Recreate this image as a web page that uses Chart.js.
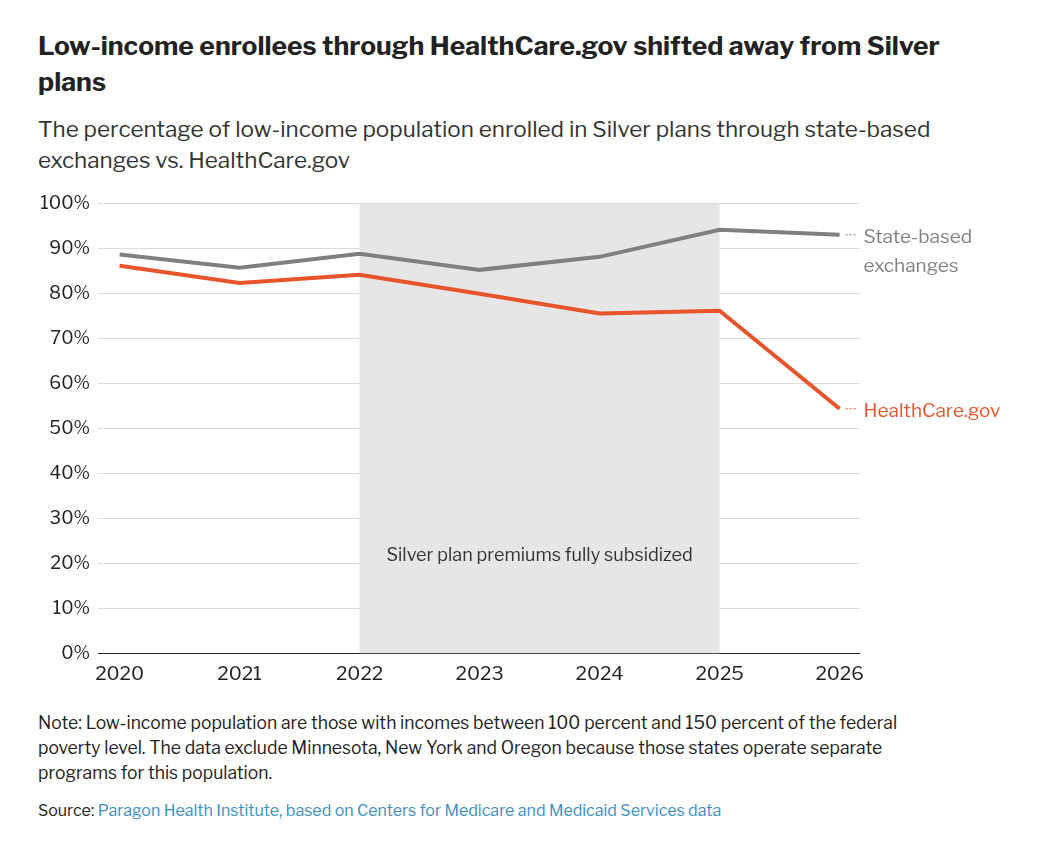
<!DOCTYPE html>
<html><head><meta charset="utf-8">
<script src="https://cdn.jsdelivr.net/npm/chart.js@4"></script>
<style>
body{margin:0;background:#fff;font-family:"Libre Franklin","Noto Sans",sans-serif;color:#222;width:1041px;height:850px;position:relative;overflow:hidden}
h1{position:absolute;left:38px;top:28px;width:960px;margin:0;font-size:26.5px;line-height:36px;font-weight:700;color:#222}
.sub{position:absolute;left:38px;top:114px;width:960px;font-size:22.5px;line-height:31px;color:#333}
#wrap{position:absolute;left:0;top:185px;width:1041px;height:503px}
.note{position:absolute;left:38px;top:710px;width:905px;font-size:17.5px;line-height:25px;color:#222}
.src{position:absolute;left:38px;top:801px;font-size:16px;color:#222}
.src span{color:#3b8fc4}
</style></head><body>
<h1>Low-income enrollees through HealthCare.gov shifted away from Silver plans</h1>
<div class="sub">The percentage of low-income population enrolled in Silver plans through state-based exchanges vs. HealthCare.gov</div>
<div id="wrap"><canvas id="c"></canvas></div>
<div class="note">Note: Low-income population are those with incomes between 100 percent and 150 percent of the federal poverty level. The data exclude Minnesota, New York and Oregon because those states operate separate programs for this population.</div>
<div class="src">Source: <span>Paragon Health Institute, based on Centers for Medicare and Medicaid Services data</span></div>
<script>
const years = [2020, 2021, 2022, 2023, 2024, 2025, 2026]
const stateBased = [88.7, 85.8, 88.9, 85.3, 88.2, 94.2, 93.1]
const healthcareGov = [86.2, 82.4, 84.2, 80.0, 75.6, 76.2, 54.4]
const shadeFrom = 2022
const shadeTo = 2025
const shadeLabel = 'Silver plan premiums fully subsidized'
const FONT = '"Libre Franklin","Noto Sans",sans-serif'

const shade = {
	id: 'shade',
	beforeDatasetsDraw(chart) {
		const {ctx, scales: {x, y}} = chart
		const l = x.getPixelForValue(shadeFrom), r = x.getPixelForValue(shadeTo)
		ctx.save()
		ctx.fillStyle = '#e6e6e6'
		ctx.fillRect(l, y.getPixelForValue(100), r - l, y.getPixelForValue(0) - y.getPixelForValue(100))
		ctx.fillStyle = '#333'
		ctx.font = '18px ' + FONT
		ctx.textAlign = 'center'
		ctx.textBaseline = 'middle'
		ctx.fillText(shadeLabel, (l + r) / 2, y.getPixelForValue(21.7))
		ctx.restore()
	}
}

const endLabels = {
	id: 'endLabels',
	afterDatasetsDraw(chart) {
		const {ctx, scales: {x, y}} = chart
		const lx = x.getPixelForValue(years[years.length - 1])
		ctx.save()
		ctx.font = '19px ' + FONT
		ctx.textBaseline = 'middle'
		chart.data.datasets.forEach(ds => {
			const py = y.getPixelForValue(ds.data[ds.data.length - 1].y)
			ctx.strokeStyle = ds.borderColor
			ctx.lineWidth = 1
			ctx.setLineDash([2, 2])
			ctx.beginPath(); ctx.moveTo(lx + 6, py); ctx.lineTo(lx + 18, py); ctx.stroke()
			ctx.fillStyle = ds.borderColor
			ds.label.split('\n').forEach((t, i) => ctx.fillText(t, lx + 24, py + 3 + i * 29))
		})
		ctx.restore()
	}
}

new Chart('c', {
	type: 'line',
	data: {
		datasets: [
			{label: 'State-based\nexchanges', data: years.map((v, i) => ({x: v, y: stateBased[i]})), borderColor: '#808080', borderWidth: 4, pointRadius: 0},
			{label: 'HealthCare.gov', data: years.map((v, i) => ({x: v, y: healthcareGov[i]})), borderColor: '#e8542c', borderWidth: 4, pointRadius: 0}
		]
	},
	options: {
		responsive: true, maintainAspectRatio: false, animation: false,
		layout: {padding: {top: 17, right: 181, left: 0, bottom: 0}},
		plugins: {legend: {display: false}, tooltip: {enabled: false}},
		scales: {
			x: {
				type: 'linear', min: 2019.82, max: 2026.17,
				afterBuildTicks: s => { s.ticks = years.map(v => ({value: v})) },
				grid: {display: false}, border: {display: false},
				ticks: {color: '#222', font: {size: 19, family: FONT}, padding: 2, callback: v => String(v)}
			},
			y: {
				min: 0, max: 100,
				afterFit: s => { s.width = 98 },
				grid: {color: c => c.tick.value === 0 ? '#222' : '#dcdcdc', lineWidth: 1, drawTicks: false},
				border: {display: false},
				ticks: {stepSize: 10, color: '#222', font: {size: 18, family: FONT}, padding: 8, callback: v => v + '%'}
			}
		}
	},
	plugins: [shade, endLabels]
})
</script>
</body></html>
